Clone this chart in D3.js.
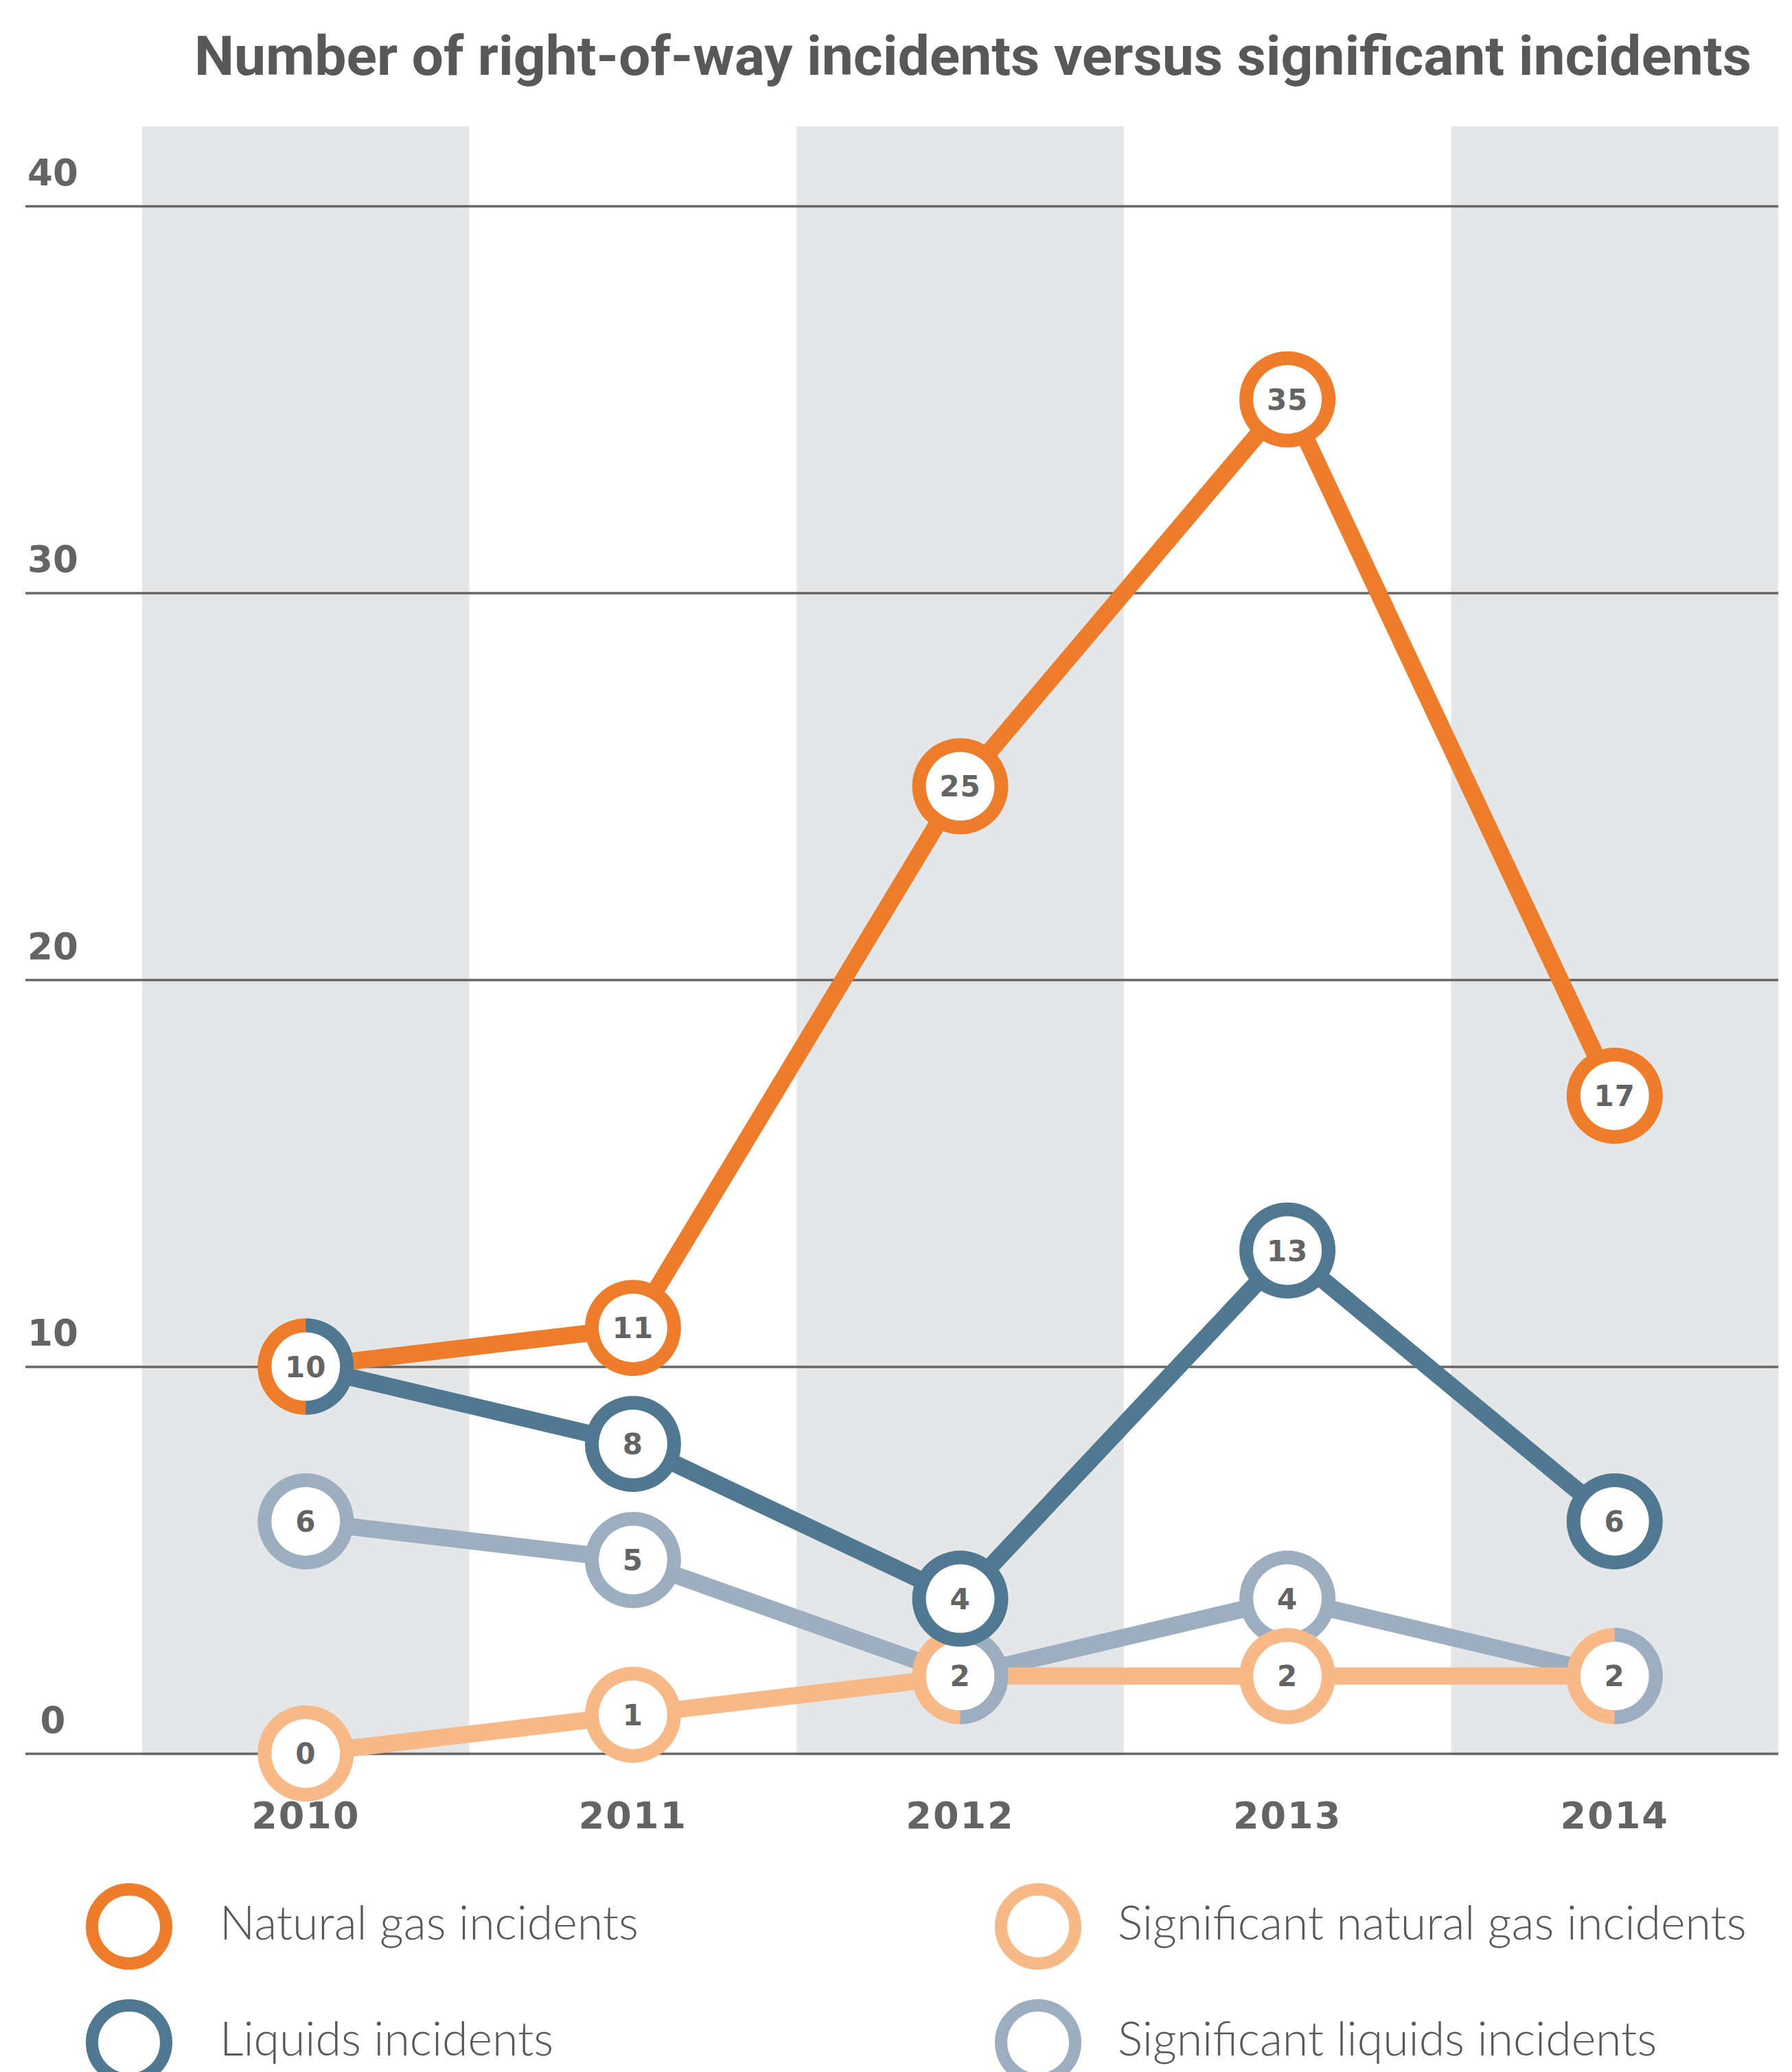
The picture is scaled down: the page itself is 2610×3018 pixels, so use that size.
<!DOCTYPE html>
<html>
<head>
<meta charset="utf-8">
<script src="https://cdn.jsdelivr.net/npm/d3@7/dist/d3.min.js"></script>
<style>
  html, body { margin: 0; padding: 0; background: #fff; }
</style>
</head>
<body>
<svg id="chart" width="2610" height="3018"></svg>
<script>
// chart data
var years = [2010, 2011, 2012, 2013, 2014]
var naturalGas = [10, 11, 25, 35, 17]
var liquids = [10, 8, 4, 13, 6]
var sigNaturalGas = [0, 1, 2, 2, 2]
var sigLiquids = [6, 5, 2, 4, 2]
var yTicks = [0, 10, 20, 30, 40]
var shadedYears = [2010, 2012, 2014]

var seriesNames = ["Natural gas incidents", "Liquids incidents", "Significant natural gas incidents", "Significant liquids incidents"]

var W = 2610, H = 3018
var svg = d3.select("#chart")

var numFont = "'DejaVu Sans', sans-serif"
var textGray = "#646464"

// series, in drawing order (last on top); "side" picks the half of a shared ring
var series = [
	{ key: "sigLiq", name: seriesNames[3], values: sigLiquids, color: "#9caec0", side: "right" },
	{ key: "sigGas", name: seriesNames[2], values: sigNaturalGas, color: "#f6b987", side: "left" },
	{ key: "liq", name: seriesNames[1], values: liquids, color: "#507891", side: "right" },
	{ key: "gas", name: seriesNames[0], values: naturalGas, color: "#ed7d2b", side: "left" }
]

var x = d3.scaleBand().domain(years).range([207, 2590]).padding(0)
var y = d3.scaleLinear().domain([0, 40]).range([2554, 300])

// title
var title = svg.append("text")
	.attr("x", 1417)
	.attr("y", 109)
	.attr("text-anchor", "middle")
	.style("font-family", "'Liberation Sans Narrow', 'Roboto', sans-serif")
	.style("font-weight", "bold")
	.style("font-size", "80px")
	.style("fill", "#58585a")
	.text("Number of right-of-way incidents versus significant incidents")
title.attr("textLength", 2268).attr("lengthAdjust", "spacingAndGlyphs")

// shaded year bands
svg.append("g").selectAll("rect")
	.data(shadedYears)
	.enter().append("rect")
		.attr("x", function(d) { return x(d) })
		.attr("y", 184)
		.attr("width", x.bandwidth())
		.attr("height", 2557 - 184)
		.style("fill", "#e5e6e8")

// gridlines + y labels
var yAxis = svg.append("g")
	.attr("transform", "translate(37,0)")
	.call(d3.axisRight(y).tickValues(yTicks).tickSize(2590 - 37))
yAxis.select(".domain").remove()
yAxis.selectAll("line").style("stroke", "#666").style("stroke-width", "3.5px")
yAxis.selectAll("text")
	.attr("x", 40)
	.attr("dy", -31)
	.attr("text-anchor", "middle")
	.style("font-family", numFont)
	.style("font-weight", "bold")
	.style("font-size", "53px")
	.style("fill", textGray)

// year labels
var xAxis = svg.append("g")
	.attr("transform", "translate(0,2663)")
	.call(d3.axisBottom(x).tickSize(0))
xAxis.select(".domain").remove()
xAxis.selectAll("text")
	.attr("y", 0)
	.attr("dy", 0)
	.style("font-family", numFont)
	.style("font-weight", "bold")
	.style("font-size", "54px")
	.style("letter-spacing", "2px")
	.style("fill", textGray)

var cx = function(i) { return x(years[i]) + x.bandwidth() / 2 }

var ringInner = 50, ringOuter = 70
var fullRing = d3.arc().innerRadius(ringInner).outerRadius(ringOuter).startAngle(0).endAngle(2 * Math.PI)
var leftRing = d3.arc().innerRadius(ringInner).outerRadius(ringOuter).startAngle(Math.PI).endAngle(2 * Math.PI)
var rightRing = d3.arc().innerRadius(ringInner).outerRadius(ringOuter).startAngle(0).endAngle(Math.PI)

// find a series sharing the same value in the same year
function partnerOf(s, i) {
	for (var k = 0; k < series.length; k++) {
		var o = series[k]
		if (o !== s && o.values[i] === s.values[i] && o.side !== s.side) return o
	}
	return null
}

var line = d3.line()
	.x(function(d, i) { return cx(i) })
	.y(function(d) { return y(d) })

series.forEach(function(s) {
	var g = svg.append("g").attr("class", "series-" + s.key)

	g.append("path")
		.datum(s.values)
		.attr("d", line)
		.style("fill", "none")
		.style("stroke", s.color)
		.style("stroke-width", 25)

	var pts = g.selectAll("g.pt")
		.data(s.values)
		.enter().append("g")
			.attr("class", "pt")
			.attr("transform", function(d, i) { return "translate(" + cx(i) + "," + y(d) + ")" })

	pts.append("circle")
		.attr("r", ringInner)
		.style("fill", "#fff")

	pts.each(function(d, i) {
		var p = d3.select(this)
		var other = partnerOf(s, i)
		if (other) {
			var leftS = s.side === "left" ? s : other
			var rightS = s.side === "left" ? other : s
			p.append("path").attr("d", leftRing()).style("fill", leftS.color)
			p.append("path").attr("d", rightRing()).style("fill", rightS.color)
		} else {
			p.append("path").attr("d", fullRing()).style("fill", s.color)
		}
	})

	pts.append("text")
		.attr("text-anchor", "middle")
		.attr("dy", "0.36em")
		.style("font-family", numFont)
		.style("font-weight", "bold")
		.style("font-size", "42px")
		.style("letter-spacing", "1px")
		.style("fill", textGray)
		.text(function(d) { return d })
})

// legend: left column natural gas / liquids, right column significant ones
var legendOrder = [series[3], series[2], series[1], series[0]]
var legendPos = [
	{ x: 188, y: 2806, tx: 132 }, { x: 188, y: 2975, tx: 132 },
	{ x: 1512, y: 2806, tx: 116 }, { x: 1512, y: 2975, tx: 116 }
]
var legend = svg.append("g").selectAll("g")
	.data(legendOrder)
	.enter().append("g")
		.attr("transform", function(d, i) { return "translate(" + legendPos[i].x + "," + legendPos[i].y + ")" })

legend.append("circle")
	.attr("r", 54)
	.style("fill", "#fff")
	.style("stroke", function(d) { return d.color })
	.style("stroke-width", 18)

legend.append("text")
	.attr("x", function(d, i) { return legendPos[i].tx })
	.attr("y", 19)
	.style("font-family", "Lato, 'Open Sans', sans-serif")
	.style("font-weight", 300)
	.style("font-size", "68px")
	.style("fill", "#58585a")
	.text(function(d) { return d.name })
</script>
</body>
</html>
